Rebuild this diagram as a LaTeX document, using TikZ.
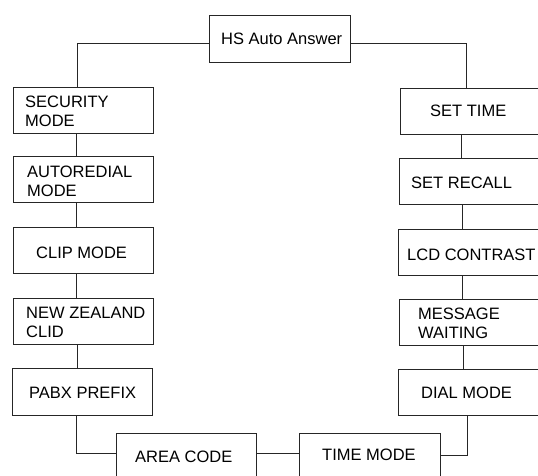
\documentclass[tikz,border=0pt]{standalone}
\usepackage{fontspec}
\setmainfont{Liberation Sans}
\begin{document}
\begin{tikzpicture}[x=1pt,y=-1pt,
  box/.style={draw=black!85, line width=0.9pt, rectangle, inner sep=0pt},
  txt/.style={anchor=west, align=left, inner sep=0pt, font=\fontsize{16.5}{19}\selectfont},
  conn/.style={draw=black!85, line width=0.9pt}]
\useasboundingbox (0,0) rectangle (538,475);
\fill[white] (0,0) rectangle (538,475);
\clip (0,0) rectangle (538,475);
% boxes
\node[box, minimum width=141pt, minimum height=47pt] (hs) at (279.5,38.5) {};
\node[box, minimum width=140pt, minimum height=46pt] (sec) at (83,110) {};
\node[box, minimum width=140pt, minimum height=46pt] (auto) at (83,179) {};
\node[box, minimum width=140pt, minimum height=46pt] (clip) at (83,250) {};
\node[box, minimum width=140pt, minimum height=46pt] (nz) at (83,321) {};
\node[box, minimum width=140pt, minimum height=47pt] (pabx) at (82,391.5) {};
\node[box, minimum width=140pt, minimum height=46pt] (area) at (186,456) {};
\node[box, minimum width=141pt, minimum height=46pt] (timem) at (369.5,456) {};
\node[box, minimum width=140pt, minimum height=46pt] (settime) at (470,111) {};
\node[box, minimum width=140pt, minimum height=46pt] (recall) at (469,181) {};
\node[box, minimum width=140pt, minimum height=46pt] (lcd) at (468,252) {};
\node[box, minimum width=140pt, minimum height=46pt] (msg) at (469,322) {};
\node[box, minimum width=140pt, minimum height=46pt] (dial) at (468,392) {};
% texts
\node[txt] (ths) at (221,39) {HS Auto Answer};
\node[txt] (tsec) at (25,111.5) {SECURITY\\MODE};
\node[txt] (tauto) at (27,181) {AUTOREDIAL\\MODE};
\node[txt] (tclip) at (36,253) {CLIP MODE};
\node[txt] (tnz) at (26,322) {NEW ZEALAND\\CLID};
\node[txt] (tpabx) at (29,393) {PABX PREFIX};
\node[txt] (tarea) at (135,456.5) {AREA CODE};
\node[txt] (ttimem) at (322,455) {TIME MODE};
\node[txt] (tsettime) at (430,110.5) {SET TIME};
\node[txt] (trecall) at (411,183) {SET RECALL};
\node[txt] (tlcd) at (407,255) {LCD CONTRAST};
\node[txt] (tmsg) at (418,323) {MESSAGE\\WAITING};
\node[txt] (tdial) at (421,393) {DIAL MODE};
% connectors
\draw[conn] ([yshift=-4.5pt]hs.west) -| ([xshift=-6pt]sec.north);
\draw[conn] ([xshift=-7pt]sec.south) -- ([xshift=-7pt]auto.north);
\draw[conn] ([xshift=-7pt]auto.south) -- ([xshift=-7pt]clip.north);
\draw[conn] ([xshift=-7pt]clip.south) -- ([xshift=-7pt]nz.north);
\draw[conn] ([xshift=-6pt]nz.south) -- ([xshift=-5pt]pabx.north);
\draw[conn] ([xshift=-6pt]pabx.south) |- ([yshift=3pt]area.west);
\draw[conn] ([yshift=3pt]area.east) -- ([yshift=3pt]timem.west);
\draw[conn] ([yshift=1pt]timem.east) -| ([xshift=-1pt]dial.south);
\draw[conn] ([yshift=-4.5pt]hs.east) -| ([xshift=-4pt]settime.north);
\draw[conn] ([xshift=-9pt]settime.south) -- ([xshift=-8pt]recall.north);
\draw[conn] ([xshift=-7pt]recall.south) -- ([xshift=-6pt]lcd.north);
\draw[conn] ([xshift=-6pt]lcd.south) -- ([xshift=-7pt]msg.north);
\draw[conn] ([xshift=-6pt]msg.south) -- ([xshift=-5pt]dial.north);
\end{tikzpicture}
\end{document}
